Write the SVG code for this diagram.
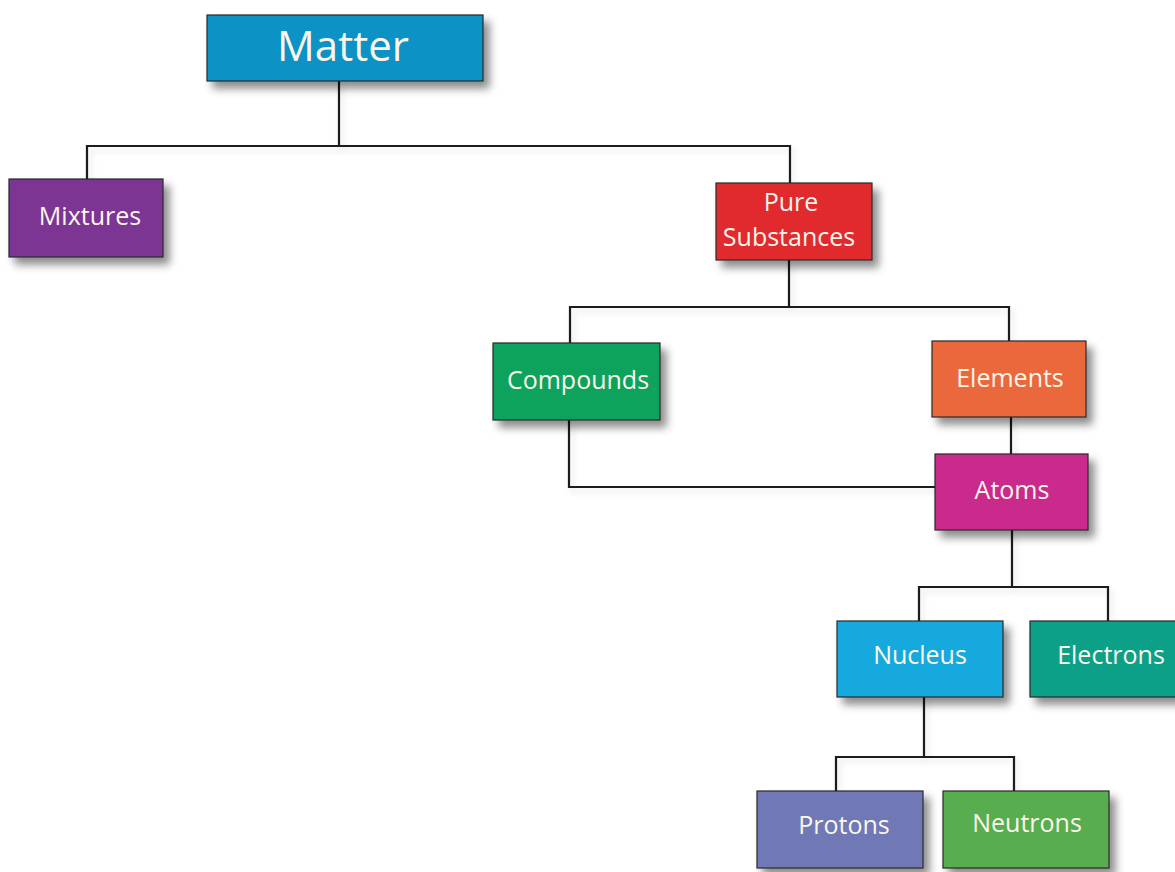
<svg xmlns="http://www.w3.org/2000/svg" width="1175" height="872" viewBox="0 0 1175 872">
<defs>
<filter id="sh" x="-20%" y="-20%" width="150%" height="160%">
<feDropShadow dx="6" dy="7" stdDeviation="4" flood-color="#000" flood-opacity="0.45"/>
</filter>
<filter id="lsh" x="-5%" y="-5%" width="110%" height="110%">
<feDropShadow dx="3" dy="4" stdDeviation="3" flood-color="#000" flood-opacity="0.12"/>
</filter>
</defs>
<style>
.box{stroke:#2a2a2a;stroke-width:1.2;filter:url(#sh)}
.t{font-family:"Open Sans","Noto Sans","Liberation Sans",sans-serif;fill:#fbf6ea;text-anchor:middle;font-size:25px;font-weight:500}
.c{fill:none;stroke:#1a1a1a;stroke-width:2.2}
</style>
<rect width="1175" height="872" fill="#ffffff"/>
<g id="connectors" filter="url(#lsh)">
<path class="c" d="M339 81 V146 M87 179 V146 H790 V183"/>
<path class="c" d="M789 260 V307 M570 343 V307 H1009 V342"/>
<path class="c" d="M569 420 V487 H936"/>
<path class="c" d="M1011 417 V454"/>
<path class="c" d="M1012 530 V587 M919 621 V587 H1108 V621"/>
<path class="c" d="M924 697 V757 M836 791 V757 H1014 V791"/>
</g>
<g id="matter"><rect class="box" x="207" y="15" width="276" height="66" fill="#1092c6"/><text class="t" x="343" y="61" style="font-size:42px;font-weight:400">Matter</text></g>
<g id="mixtures"><rect class="box" x="9" y="179" width="154" height="78" fill="#7b3592"/><text class="t" x="90" y="225">Mixtures</text></g>
<g id="pure"><rect class="box" x="716" y="183" width="156" height="77" fill="#e12a2f"/><text class="t" x="791" y="211">Pure</text><text class="t" x="789" y="246">Substances</text></g>
<g id="compounds"><rect class="box" x="493" y="343" width="167" height="77" fill="#11a35b"/><text class="t" x="578" y="389">Compounds</text></g>
<g id="elements"><rect class="box" x="932" y="341" width="154" height="76" fill="#eb683c"/><text class="t" x="1010" y="387">Elements</text></g>
<g id="atoms"><rect class="box" x="935" y="454" width="153" height="76" fill="#c92a8b"/><text class="t" x="1012" y="499">Atoms</text></g>
<g id="nucleus"><rect class="box" x="837" y="621" width="166" height="76" fill="#15a9dd"/><text class="t" x="920" y="664">Nucleus</text></g>
<g id="electrons"><rect class="box" x="1030" y="621" width="160" height="76" fill="#10a088"/><text class="t" x="1111" y="664">Electrons</text></g>
<g id="protons"><rect class="box" x="757" y="791" width="166" height="77" fill="#6f78b5"/><text class="t" x="844" y="834">Protons</text></g>
<g id="neutrons"><rect class="box" x="943" y="791" width="166" height="77" fill="#59ad4f"/><text class="t" x="1027" y="832">Neutrons</text></g>
</svg>
